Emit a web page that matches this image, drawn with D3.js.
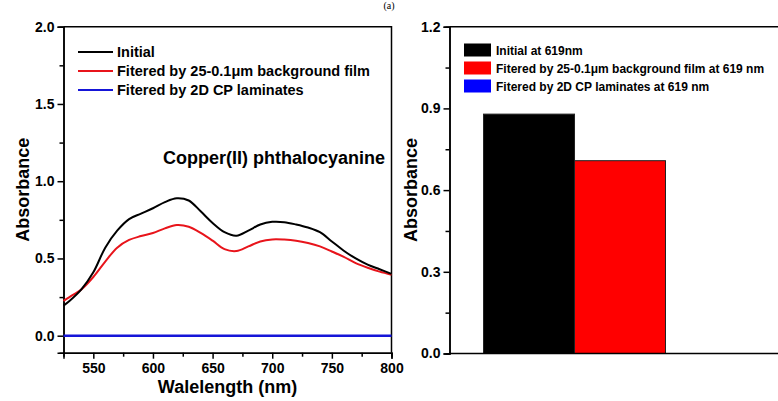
<!DOCTYPE html>
<html>
<head>
<meta charset="utf-8">
<script src="https://cdn.jsdelivr.net/npm/d3@7"></script>
<style>
  body { margin: 0; background: #fff; }
  svg { display: block; font-family: 'Liberation Sans', Arial, sans-serif; font-weight: bold; }
  .axis text { font-size: 14px; font-weight: bold; fill: #000; font-family: 'Liberation Sans', Arial, sans-serif; }
  .axis path, .axis line { stroke: #000; stroke-width: 1.5; }
</style>
</head>
<body>
<svg width="778" height="401"></svg>
<script>
// left panel: spectra
const wavelengths = [525, 530, 540, 550, 560, 570, 580, 590, 600, 610, 620, 630, 640, 650, 660,
  670, 680, 690, 700, 710, 720, 730, 740, 750, 760, 770, 780, 790, 800];
const initialAbs = [0.195, 0.225, 0.30, 0.41, 0.57, 0.68, 0.755, 0.79, 0.825, 0.865, 0.89, 0.875, 0.805, 0.73, 0.67,
  0.647, 0.68, 0.72, 0.737, 0.735, 0.72, 0.70, 0.67, 0.61, 0.55, 0.50, 0.46, 0.43, 0.40];
const filmAbs = [0.225, 0.25, 0.30, 0.38, 0.48, 0.57, 0.62, 0.645, 0.665, 0.695, 0.716, 0.705, 0.665, 0.615, 0.56,
  0.548, 0.578, 0.61, 0.623, 0.622, 0.615, 0.60, 0.578, 0.545, 0.51, 0.47, 0.44, 0.415, 0.395];
const laminateWavelengths = [525, 800];
const laminateAbs = [0, 0];
const spectraNames = ['Initial', 'Fitered by 25-0.1\u03bcm background film', 'Fitered by 2D CP laminates'];
const spectraColors = ['#000000', '#e8141b', '#1515d8'];
const xTicks = [550, 600, 650, 700, 750, 800];
const yTicksLeft = [0.0, 0.5, 1.0, 1.5, 2.0];

// right panel: bars at 619 nm
const barNames = ['Initial at 619nm', 'Fitered by 25-0.1\u03bcm background film at 619 nm', 'Fitered by 2D CP laminates at 619 nm'];
const barValues = [0.879, 0.708, 0.0];
const barColors = ['#000000', '#ff0000', '#0000ff'];
const yTicksRight = [0.0, 0.3, 0.6, 0.9, 1.2];

const svg = d3.select('svg');

// panel label above the plots (mostly cropped in the source)
svg.append('text')
  .attr('x', 389).attr('y', 9)
  .attr('text-anchor', 'middle')
  .style('font-family', "'Liberation Serif', serif")
  .style('font-weight', 'normal')
  .style('font-size', '10px')
  .text('(a)');

const renderSpectra = () => {
  const left = 63.5, right = 391.5, top = 26.7, bottom = 352.7;
  const xScale = d3.scaleLinear().domain([525, 800]).range([left, right]);
  const yScale = d3.scaleLinear().domain([-0.11, 2.0]).range([bottom, top]);

  const g = svg.append('g').attr('class', 'spectra');

  // minor ticks
  const xAxisMinor = d3.axisBottom(xScale).tickValues([575, 625, 675, 725, 775]).tickSize(4).tickFormat('');
  const yAxisMinor = d3.axisLeft(yScale).tickValues([0.25, 0.75, 1.25, 1.75]).tickSize(4).tickFormat('');
  g.append('g').attr('class', 'axis').attr('transform', `translate(0,${bottom})`).call(xAxisMinor);
  g.append('g').attr('class', 'axis').attr('transform', `translate(${left},0)`).call(yAxisMinor);

  const xAxis = d3.axisBottom(xScale).tickValues(xTicks).tickSize(6).tickPadding(4).tickFormat(d3.format('d'));
  const yAxis = d3.axisLeft(yScale).tickValues(yTicksLeft).tickSize(6).tickPadding(3).tickFormat(d3.format('.1f'));
  g.append('g').attr('class', 'axis').attr('transform', `translate(0,${bottom})`).call(xAxis);
  g.append('g').attr('class', 'axis').attr('transform', `translate(${left},0)`).call(yAxis);

  // frame on top and right
  g.append('path')
    .attr('d', `M${left},${top}H${right}V${bottom}`)
    .attr('fill', 'none').attr('stroke', '#000').attr('stroke-width', 1.5);

  const line = d3.line()
    .x(d => xScale(d[0]))
    .y(d => yScale(d[1]))
    .curve(d3.curveCatmullRom);

  const series = [
    d3.zip(laminateWavelengths, laminateAbs),
    d3.zip(wavelengths, filmAbs),
    d3.zip(wavelengths, initialAbs)
  ];
  const seriesColors = [spectraColors[2], spectraColors[1], spectraColors[0]];
  g.selectAll('path.spectrum')
    .data(series)
    .enter()
    .append('path')
      .attr('class', 'spectrum')
      .attr('d', line)
      .attr('fill', 'none')
      .attr('stroke', (d, i) => seriesColors[i])
      .attr('stroke-width', (d, i) => i === 0 ? 2.5 : 2);

  // legend
  const legend = g.append('g').attr('transform', 'translate(78,52)');
  spectraNames.forEach((name, i) => {
    const row = legend.append('g').attr('transform', `translate(0,${i * 19})`);
    row.append('line').attr('x1', 0).attr('x2', 35).attr('y1', 0).attr('y2', 0)
      .attr('stroke', spectraColors[i]).attr('stroke-width', 2);
    row.append('text').attr('x', 39).attr('y', 5).style('font-size', '14.5px').text(name);
  });

  g.append('text')
    .attr('x', 163).attr('y', 164)
    .style('font-size', '18px')
    .text('Copper(II) phthalocyanine');

  g.append('text')
    .attr('x', (left + right) / 2).attr('y', 393)
    .attr('text-anchor', 'middle')
    .style('font-size', '18px')
    .text('Walelength (nm)');

  g.append('text')
    .attr('transform', `translate(29,${(top + bottom) / 2}) rotate(-90)`)
    .attr('text-anchor', 'middle')
    .style('font-size', '18px')
    .text('Absorbance');
};

const renderBars = () => {
  const left = 449.5, right = 800, top = 26.7, bottom = 353.5;
  const xScale = d3.scaleBand()
    .domain(barNames)
    .range([left, 790.5])
    .paddingInner(0)
    .paddingOuter(0.374);
  const yScale = d3.scaleLinear().domain([0, 1.2]).range([bottom, top]);

  const g = svg.append('g').attr('class', 'bars');

  g.selectAll('rect.bar')
    .data(barNames)
    .enter()
    .append('rect')
      .attr('class', 'bar')
      .attr('x', d => xScale(d))
      .attr('width', xScale.bandwidth())
      .attr('y', (d, i) => yScale(barValues[i]))
      .attr('height', (d, i) => bottom - yScale(barValues[i]))
      .attr('fill', (d, i) => barColors[i])
      .attr('stroke', '#222')
      .attr('stroke-width', 1);

  const yAxisMinor = d3.axisLeft(yScale).tickValues([0.15, 0.45, 0.75, 1.05]).tickSize(4).tickFormat('');
  g.append('g').attr('class', 'axis').attr('transform', `translate(${left},0)`).call(yAxisMinor);
  const yAxis = d3.axisLeft(yScale).tickValues(yTicksRight).tickSize(6).tickPadding(3).tickFormat(d3.format('.1f'));
  g.append('g').attr('class', 'axis').attr('transform', `translate(${left},0)`).call(yAxis);

  g.append('path')
    .attr('d', `M${left},${bottom}H${right}M${left},${top}H${right}`)
    .attr('fill', 'none').attr('stroke', '#000').attr('stroke-width', 1.5);

  const legend = g.append('g').attr('transform', 'translate(464,50)');
  barNames.forEach((name, i) => {
    const row = legend.append('g').attr('transform', `translate(0,${i * 18})`);
    row.append('rect').attr('x', 0).attr('y', -6.5).attr('width', 27).attr('height', 13)
      .attr('fill', barColors[i]);
    row.append('text').attr('x', 32).attr('y', 4.5).style('font-size', '12px').text(name);
  });

  g.append('text')
    .attr('transform', `translate(417,${(top + bottom) / 2}) rotate(-90)`)
    .attr('text-anchor', 'middle')
    .style('font-size', '18px')
    .text('Absorbance');
};

renderSpectra();
renderBars();
</script>
</body>
</html>
